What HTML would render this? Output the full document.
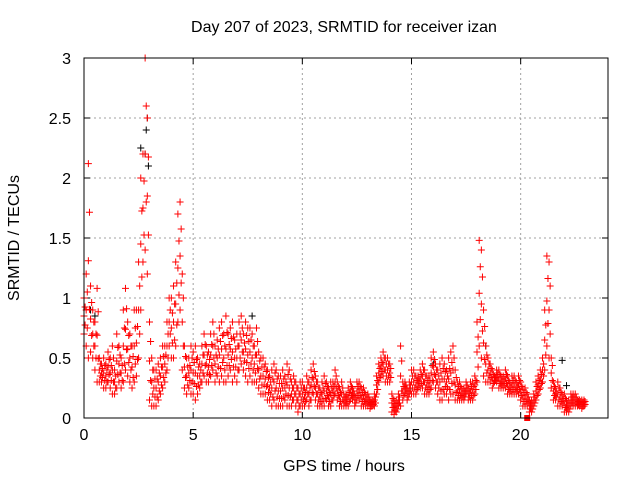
<!DOCTYPE html>
<html><head><meta charset="utf-8"><style>
html,body{margin:0;padding:0;background:#fff;}
svg{display:block;font-family:"Liberation Sans",sans-serif;}
</style></head><body>
<svg id="chart" width="640" height="480" viewBox="0 0 640 480" xmlns="http://www.w3.org/2000/svg">
<rect width="640" height="480" fill="#fff"/>
<text x="344" y="32" font-size="16" text-anchor="middle">Day 207 of 2023, SRMTID for receiver izan</text>
<text x="344" y="471" font-size="16" text-anchor="middle">GPS time / hours</text>
<text transform="translate(19,238) rotate(-90)" font-size="16" text-anchor="middle">SRMTID / TECUs</text>
<g id="grid"></g>
<g id="ticks"></g>
<g id="black"></g>
<g id="red"></g>
<rect x="84" y="58" width="524" height="360" fill="none" stroke="#000" stroke-width="1"/>
</svg>
<script>
const xTicks=[0,5,10,15,20];
const yTicks=[0,0.5,1,1.5,2,2.5,3];
const yTickLabels=["0","0.5","1","1.5","2","2.5","3"];
const startHour=0, stepHour=0.1;
const redHigh=[1.0,1.2,2.12,1.1,0.9,0.8,1.08,0.5,0.45,0.5,
0.45,0.55,0.5,0.6,0.4,0.7,0.6,0.5,0.9,1.08,
0.8,0.7,0.6,0.9,0.9,1.3,2.0,2.2,3.0,2.5,
0.8,0.5,0.4,0.4,0.45,0.5,0.6,0.6,0.8,1.0,
1.0,1.1,1.3,1.7,1.8,1.2,0.6,0.5,0.5,0.6,
0.55,0.6,0.5,0.45,0.6,0.7,0.6,0.55,0.7,0.8,
0.6,0.65,0.75,0.8,0.7,0.85,0.7,0.75,0.8,0.65,
0.7,0.8,0.85,0.7,0.8,0.75,0.75,0.7,0.6,0.75,
0.55,0.5,0.5,0.45,0.4,0.35,0.4,0.45,0.4,0.35,
0.35,0.4,0.35,0.45,0.4,0.3,0.35,0.3,0.25,0.3,
0.3,0.25,0.35,0.3,0.4,0.45,0.35,0.3,0.25,0.3,
0.35,0.3,0.25,0.3,0.3,0.4,0.3,0.25,0.3,0.2,
0.2,0.25,0.3,0.25,0.2,0.3,0.3,0.25,0.25,0.2,
0.2,0.15,0.15,0.2,0.35,0.45,0.5,0.55,0.5,0.5,
0.45,0.2,0.15,0.15,0.2,0.6,0.3,0.3,0.25,0.3,
0.4,0.4,0.35,0.35,0.4,0.45,0.4,0.35,0.35,0.5,
0.55,0.45,0.4,0.45,0.5,0.45,0.4,0.5,0.55,0.6,
0.4,0.3,0.3,0.25,0.25,0.3,0.25,0.3,0.3,0.35,
0.8,1.48,1.4,0.9,0.6,0.5,0.45,0.4,0.35,0.4,
0.4,0.35,0.35,0.4,0.35,0.3,0.35,0.35,0.3,0.35,
0.3,0.25,0.25,0.2,0.15,0.15,0.2,0.3,0.35,0.4,
0.5,0.9,1.35,1.3,0.5,0.3,0.25,0.3,0.25,0.2,
0.2,0.15,0.15,0.2,0.2,0.2,0.15,0.15,0.15,0.15];
const redLow=[0.7,0.6,0.5,0.55,0.5,0.4,0.3,0.3,0.3,0.25,
0.25,0.3,0.25,0.2,0.2,0.25,0.3,0.25,0.3,0.4,
0.35,0.3,0.25,0.3,0.35,0.5,0.9,1.3,1.4,1.2,
0.15,0.1,0.1,0.1,0.15,0.2,0.25,0.3,0.4,0.6,
0.5,0.5,0.6,0.8,0.9,0.4,0.25,0.2,0.25,0.2,
0.2,0.15,0.2,0.25,0.3,0.35,0.3,0.3,0.35,0.4,
0.3,0.35,0.3,0.35,0.3,0.3,0.35,0.4,0.3,0.35,
0.3,0.4,0.45,0.4,0.35,0.3,0.35,0.3,0.3,0.3,
0.25,0.2,0.2,0.2,0.15,0.15,0.1,0.15,0.1,0.1,
0.1,0.1,0.15,0.1,0.1,0.1,0.15,0.1,0.05,0.1,
0.1,0.1,0.15,0.1,0.15,0.2,0.15,0.1,0.1,0.1,
0.1,0.15,0.1,0.1,0.15,0.2,0.15,0.1,0.1,0.1,
0.1,0.1,0.15,0.15,0.1,0.15,0.15,0.1,0.1,0.1,
0.1,0.08,0.1,0.1,0.2,0.3,0.35,0.35,0.3,0.3,
0.3,0.05,0.03,0.05,0.1,0.1,0.15,0.2,0.15,0.2,
0.2,0.2,0.2,0.25,0.25,0.25,0.2,0.2,0.2,0.25,
0.3,0.25,0.2,0.15,0.15,0.2,0.2,0.15,0.2,0.2,
0.15,0.15,0.15,0.15,0.15,0.2,0.15,0.15,0.15,0.2,
0.3,0.6,0.5,0.35,0.3,0.3,0.3,0.25,0.3,0.3,
0.25,0.25,0.25,0.25,0.2,0.2,0.2,0.2,0.2,0.2,
0.15,0.1,0.1,0.1,0.05,0.05,0.1,0.15,0.2,0.25,
0.3,0.4,0.6,0.5,0.25,0.15,0.15,0.1,0.1,0.1,
0.05,0.05,0.05,0.1,0.1,0.1,0.1,0.1,0.08,0.1];
const blackTimes=[0.3,0.5,2.6,2.8,2.85,2.9,2.95,7.7,16.0,18.4,21.9,22.1];
const blackValues=[0.9,0.85,2.25,2.2,2.4,2.5,2.1,0.85,0.45,0.6,0.48,0.27];
const zeroTimes=[20.3];
const zeroValues=[0];

const X0=84,X1=608,Y0=418,Y1=58,XMAX=24,YMAX=3;
const xs=h=>X0+(h/XMAX)*(X1-X0);
const ys=v=>Y0-(v/YMAX)*(Y0-Y1);
const NS="http://www.w3.org/2000/svg";
function mk(tag,parent){const e=document.createElementNS(NS,tag);parent.appendChild(e);return e;}
const grid=document.getElementById('grid'),ticks=document.getElementById('ticks');
xTicks.forEach((t,i)=>{
  const x=xs(t);
  if(t>0){const g=mk('line',grid);
  
  
  g.setAttribute('x1',x);g.setAttribute('x2',x);g.setAttribute('y1',Y1);g.setAttribute('y2',Y0);
  g.setAttribute('stroke','#a0a0a0');g.setAttribute('stroke-dasharray','2,3');}
  const tk=mk('path',ticks);
  
  
  tk.setAttribute('d',`M${x},${Y0}v-6M${x},${Y1}v6`);tk.setAttribute('stroke','#000');
  const lb=mk('text',ticks);
  
  
  lb.setAttribute('x',x);lb.setAttribute('y',Y0+22);lb.setAttribute('font-size','16');lb.setAttribute('text-anchor','middle');
  lb.textContent=String(t);
});
yTicks.forEach((t,i)=>{
  const y=ys(t);
  if(t>0&&t<YMAX){const g=mk('line',grid);
  
  
  g.setAttribute('x1',X0);g.setAttribute('x2',X1);g.setAttribute('y1',y);g.setAttribute('y2',y);
  g.setAttribute('stroke','#a0a0a0');g.setAttribute('stroke-dasharray','2,3');}
  const tk=mk('path',ticks);
  
  
  tk.setAttribute('d',`M${X0},${y}h6M${X1},${y}h-6`);tk.setAttribute('stroke','#000');
  const lb=mk('text',ticks);
  
  
  lb.setAttribute('x',X0-13);lb.setAttribute('y',y+6);lb.setAttribute('font-size','16');lb.setAttribute('text-anchor','end');
  lb.textContent=yTickLabels[i];
});
function cross(parent,h,v,color){
  const x=xs(h),y=ys(v);
  const p=mk('path',parent);
  
  
  p.setAttribute('d',`M${x-3.5},${y}h7M${x},${y-3.5}v7`);
  p.setAttribute('stroke',color);p.setAttribute('stroke-width','1');
}
const black=document.getElementById('black'),red=document.getElementById('red');
blackTimes.forEach((t,i)=>cross(black,t,blackValues[i],'#000'));
redHigh.forEach((hi,i)=>{
  const t=startHour+i*stepHour, lo=redLow[i], mid=(hi+lo)/2;
  cross(red,t,hi,'#f00');
  cross(red,t,lo,'#f00');
  cross(red,t,mid,'#f00');
  cross(red,t+stepHour/2,(mid+hi)/2,'#f00');
  cross(red,t+stepHour/2,(mid+lo)/2,'#f00');
});
zeroTimes.forEach((t,i)=>{
  const r=mk('rect',red);
  
  
  r.setAttribute('x',xs(t)-3);r.setAttribute('y',ys(zeroValues[i])-3);r.setAttribute('width',6);r.setAttribute('height',6);r.setAttribute('fill','#f00');
});
</script>
</body></html>
